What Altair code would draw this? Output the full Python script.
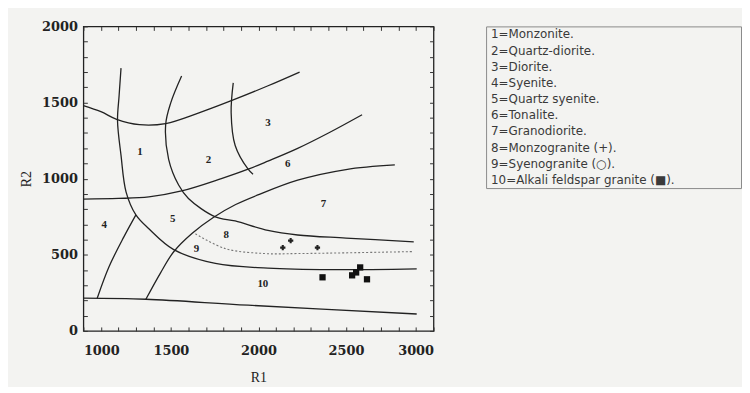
import altair as alt
import pandas as pd

SERIF = "DejaVu Serif"
SANS = "DejaVu Sans"

# ---- boundary curves of the R1-R2 diagram (R1, R2 pairs) ----
curve_ids = ["A", "B", "C", "D", "E", "F", "G", "H"]
A_r1 = [1000, 1100, 1190, 1320, 1470, 1660, 1845, 2055, 2235]
A_r2 = [1480, 1440, 1390, 1355, 1362, 1432, 1512, 1610, 1700]
B_r1 = [1000, 1200, 1374, 1561, 1788, 1941, 2054, 2224, 2400, 2592]
B_r2 = [866, 870, 880, 919, 1000, 1062, 1115, 1199, 1300, 1420]
C_r1 = [1215, 1204, 1195, 1215, 1244, 1300, 1374, 1516, 1754, 2054, 2411, 2904]
C_r2 = [1726, 1544, 1380, 1153, 912, 762, 671, 534, 443, 412, 402, 408]
D_r1 = [1561, 1499, 1470, 1487, 1544, 1600, 1754, 1867, 2054, 2224, 2500, 2887]
D_r2 = [1674, 1498, 1355, 1127, 958, 870, 749, 722, 660, 630, 610, 585]
E_r1 = [1856, 1844, 1867, 1941, 1969]
E_r2 = [1629, 1433, 1218, 1062, 1029]
F_r1 = [1079, 1147, 1232, 1300]
F_r2 = [215, 423, 619, 762]
G_r1 = [1357, 1440, 1516, 1620, 1742, 1870, 1997, 2224, 2500, 2779]
G_r2 = [208, 380, 520, 640, 745, 830, 893, 990, 1060, 1090]
H_r1 = [1000, 1357, 1941, 2904]
H_r2 = [215, 208, 169, 111]

# dashed boundary between 8 and 9
dash_r1 = [1640, 1810, 2037, 2224, 2887]
dash_r2 = [638, 541, 508, 508, 521]

# field numbers
field_text = ["1", "2", "3", "4", "5", "6", "7", "8", "9", "10"]
field_r1 = [1323, 1714, 2054, 1119, 1510, 2167, 2371, 1816, 1646, 2025]
field_r2 = [1173, 1121, 1368, 697, 736, 1095, 834, 632, 541, 306]

# samples
plus_r1 = [2139, 2337, 2184]
plus_r2 = [547, 547, 593]
sq_r1 = [2366, 2535, 2581, 2620, 2558]
sq_r2 = [352, 365, 417, 339, 384]

# legend entries
legend_items = [
    "1=Monzonite.", "2=Quartz-diorite.", "3=Diorite.", "4=Syenite.",
    "5=Quartz syenite.", "6=Tonalite.", "7=Granodiorite.",
    "8=Monzogranite (+).", "9=Syenogranite (\u25cb).",
    "10=Alkali feldspar granite (\u25a0).",
]

x_major = [1000, 1500, 2000, 2500, 3000]
y_major = [0, 500, 1000, 1500, 2000]
x_minor = list(range(1000, 3001, 100))
y_minor = list(range(0, 2001, 100))

W, H = 353, 307

rows = []
for cid, xs, ys in zip(curve_ids,
                       [A_r1, B_r1, C_r1, D_r1, E_r1, F_r1, G_r1, H_r1],
                       [A_r2, B_r2, C_r2, D_r2, E_r2, F_r2, G_r2, H_r2]):
    for i, (a, b) in enumerate(zip(xs, ys)):
        rows.append({"curve": cid, "i": i, "R1": a, "R2": b})
curves_df = pd.DataFrame(rows)
dash_df = pd.DataFrame({"i": range(len(dash_r1)), "R1": dash_r1, "R2": dash_r2})
field_df = pd.DataFrame({"t": field_text, "R1": field_r1, "R2": field_r2})
plus_df = pd.DataFrame({"R1": plus_r1, "R2": plus_r2})
sq_df = pd.DataFrame({"R1": sq_r1, "R2": sq_r2})
legend_df = pd.DataFrame({"item": legend_items, "idx": list(range(len(legend_items)))})

xs_ = alt.Scale(domain=[1000, 3000], nice=False, zero=False)
ys_ = alt.Scale(domain=[0, 2000], nice=False, zero=False)

x_lab = alt.Axis(orient="bottom", values=x_major, format="d", ticks=False, domain=False,
                 grid=False, labelFont=SERIF, labelFontWeight="bold", labelFontSize=13,
                 labelColor="#222", labelPadding=14, title="R1", titleFont="Liberation Serif",
                 titleFontWeight="normal", titleFontSize=14, titleColor="#222",
                 titlePadding=13)
y_lab = alt.Axis(orient="left", values=y_major, format="d", ticks=False, domain=False,
                 grid=False, labelFont=SERIF, labelFontWeight="bold", labelFontSize=13,
                 labelColor="#222", labelPadding=6, title="R2", titleFont="Liberation Serif",
                 titleFontWeight="normal", titleFontSize=14, titleColor="#222",
                 titlePadding=8)


def tick_axis(orient, offset, vals):
    return alt.Axis(orient=orient, offset=offset, values=vals, labels=False, domain=False,
                    grid=False, ticks=True, tickSize=4, tickColor="#333", tickWidth=1,
                    title=None)


solid = alt.Chart(curves_df).mark_line(color="#222", strokeWidth=1.3,
                                        interpolate="catmull-rom").encode(
    x=alt.X("R1:Q", scale=xs_, axis=x_lab),
    y=alt.Y("R2:Q", scale=ys_, axis=y_lab),
    detail="curve:N",
    order="i:O",
)

dashed = alt.Chart(dash_df).mark_line(color="#777", strokeWidth=1.1, strokeDash=[2, 2],
                                      interpolate="catmull-rom").encode(
    x=alt.X("R1:Q", scale=xs_, axis=tick_axis("bottom", -H, x_minor)),
    y=alt.Y("R2:Q", scale=ys_, axis=tick_axis("left", -W, y_minor)),
    order="i:O",
)

fields = alt.Chart(field_df).mark_text(font="Liberation Serif", fontWeight="bold",
                                       fontSize=11, color="#222").encode(
    x=alt.X("R1:Q", scale=xs_, axis=tick_axis("top", -H, x_minor)),
    y=alt.Y("R2:Q", scale=ys_, axis=tick_axis("right", -W, y_minor)),
    text="t:N",
)

plus = alt.Chart(plus_df).mark_point(shape="cross", filled=True, color="#222", size=28,
                                     opacity=1).encode(
    x=alt.X("R1:Q", scale=xs_, axis=None),
    y=alt.Y("R2:Q", scale=ys_, axis=None),
)

squares = alt.Chart(sq_df).mark_square(color="#111", size=40, opacity=1).encode(
    x=alt.X("R1:Q", scale=xs_, axis=None),
    y=alt.Y("R2:Q", scale=ys_, axis=None),
)

main = alt.layer(solid, dashed, fields, plus, squares).resolve_axis(
    x="independent", y="independent"
).properties(width=W, height=H, view=alt.ViewBackground(stroke="#222", strokeWidth=1.3))

legend = alt.Chart(legend_df).mark_text(align="left", baseline="middle", font=SANS,
                                        fontSize=12, color="#3a3a3a").encode(
    y=alt.Y("idx:O", axis=None, scale=alt.Scale(padding=0.5)),
    x=alt.value(5),
    text="item:N",
).properties(width=257, height=163,
             view=alt.ViewBackground(stroke="#8a8a8a", strokeWidth=1))

chart = alt.hconcat(main, legend, spacing=53, bounds="flush").properties(
    padding={"left": 11, "top": 10, "right": 0, "bottom": 0},
    background="#f3f3f1",
)

chart.save("out.html", embed_options={"renderer": "svg", "actions": False})
